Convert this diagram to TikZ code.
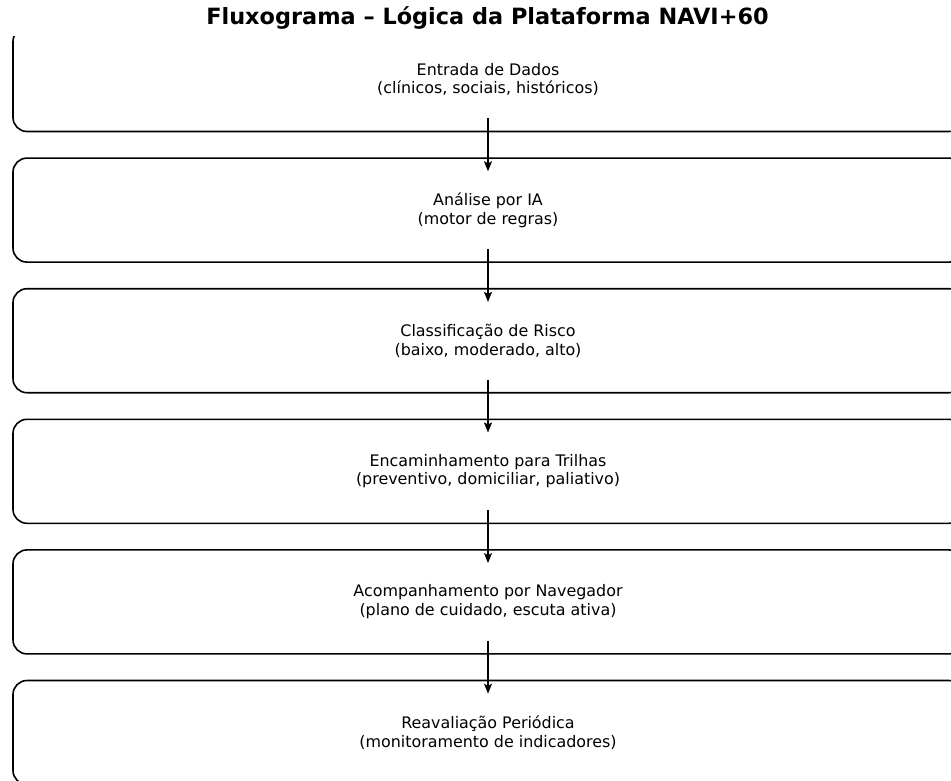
\documentclass[tikz,border=0pt]{standalone}
\usepackage{fontspec}
\setmainfont{DejaVu Sans}
\usetikzlibrary{positioning}
\usetikzlibrary{arrows.meta}
\tikzset{>={Stealth[length=10pt,width=8pt,inset=2pt]}}

\begin{document}
\begin{tikzpicture}[x=1pt,y=-1pt,
	etapa/.style={draw,line width=1.6pt,rounded corners=14pt,minimum width=950pt,minimum height=104pt,align=center,inner sep=0pt,font=\fontsize{15.9}{18.6}\selectfont},
	seta/.style={->,line width=1.6pt,shorten <=-14pt,shorten >=-14pt},
	node distance=25pt]
	\useasboundingbox (0,0) rectangle (951,780);
	\node[font=\fontsize{22.4}{26}\selectfont\bfseries] (titulo) at (487.5,18) {Fluxograma – Lógica da Plataforma NAVI+60};
	\begin{scope}
		\clip (0,36) rectangle (951,780);
		\node[etapa] (entrada) at (488,79.5) {Entrada de Dados\\(clínicos, sociais, históricos)};
		\node[etapa,below=of entrada] (analise) {Análise por IA\\(motor de regras)};
		\node[etapa,below=of analise] (risco) {Classificação de Risco\\(baixo, moderado, alto)};
		\node[etapa,below=of risco] (trilhas) {Encaminhamento para Trilhas\\(preventivo, domiciliar, paliativo)};
		\node[etapa,below=of trilhas] (navegador) {Acompanhamento por Navegador\\(plano de cuidado, escuta ativa)};
		\node[etapa,below=of navegador] (reavaliacao) {Reavaliação Periódica\\(monitoramento de indicadores)};
		\draw[seta] (entrada) -- (analise);
		\draw[seta] (analise) -- (risco);
		\draw[seta] (risco) -- (trilhas);
		\draw[seta] (trilhas) -- (navegador);
		\draw[seta] (navegador) -- (reavaliacao);
	\end{scope}
\end{tikzpicture}
\end{document}
